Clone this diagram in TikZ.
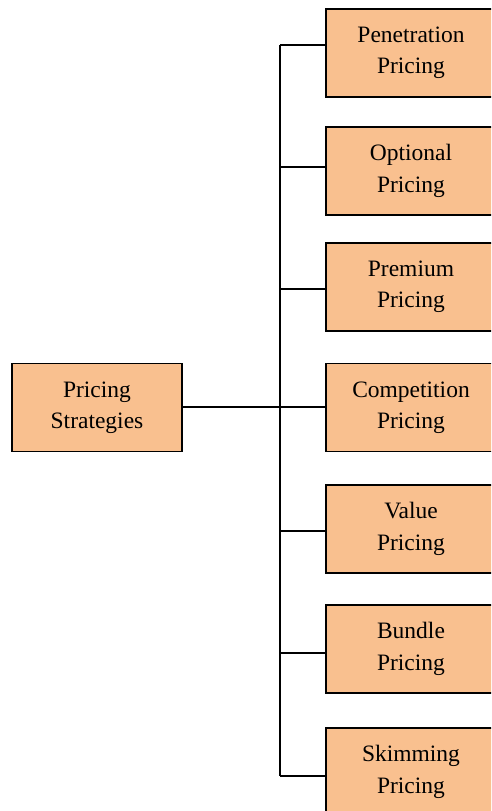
\documentclass[tikz,border=0pt]{standalone}
\usepackage{fontspec}
\setmainfont{Liberation Serif}
\definecolor{boxfill}{HTML}{F9C08F}
\begin{document}
\begin{tikzpicture}[x=1pt,y=-1pt,
  pbox/.style={draw=black,line width=1.6pt,fill=boxfill,minimum width=170pt,minimum height=88pt,
    inner sep=0pt,align=center,font=\fontsize{23.5}{31.5}\selectfont},
  link/.style={draw=black,line width=1.6pt}]
\useasboundingbox (0,0) rectangle (491,811);
\clip (0,0) rectangle (491,811);
% root and its children
\node[pbox] (root) at (97,407.5) {Pricing\\Strategies};
\node[pbox] (p1) at (411,53)  {Penetration\\Pricing};
\node[pbox] (p2) at (411,171) {Optional\\Pricing};
\node[pbox] (p3) at (411,287) {Premium\\Pricing};
\node[pbox] (p4) at (411,407.5) {Competition\\Pricing};
\node[pbox] (p5) at (411,529) {Value\\Pricing};
\node[pbox] (p6) at (411,649) {Bundle\\Pricing};
\node[pbox] (p7) at (411,772) {Skimming\\Pricing};
% branch points on the trunk
\coordinate (b1) at (280,45);
\coordinate (b2) at (280,167);
\coordinate (b3) at (280,289);
\coordinate (b4) at (280,407);
\coordinate (b5) at (280,531);
\coordinate (b6) at (280,653);
\coordinate (b7) at (280,776);
\draw[link] (b1) -- (b7);
\draw[link] (b4 -| root.east) -- (b4 -| p4.west);
\foreach \i in {1,2,3,5,6,7} \draw[link] (b\i) -- (b\i -| p\i.west);
\end{tikzpicture}
\end{document}
